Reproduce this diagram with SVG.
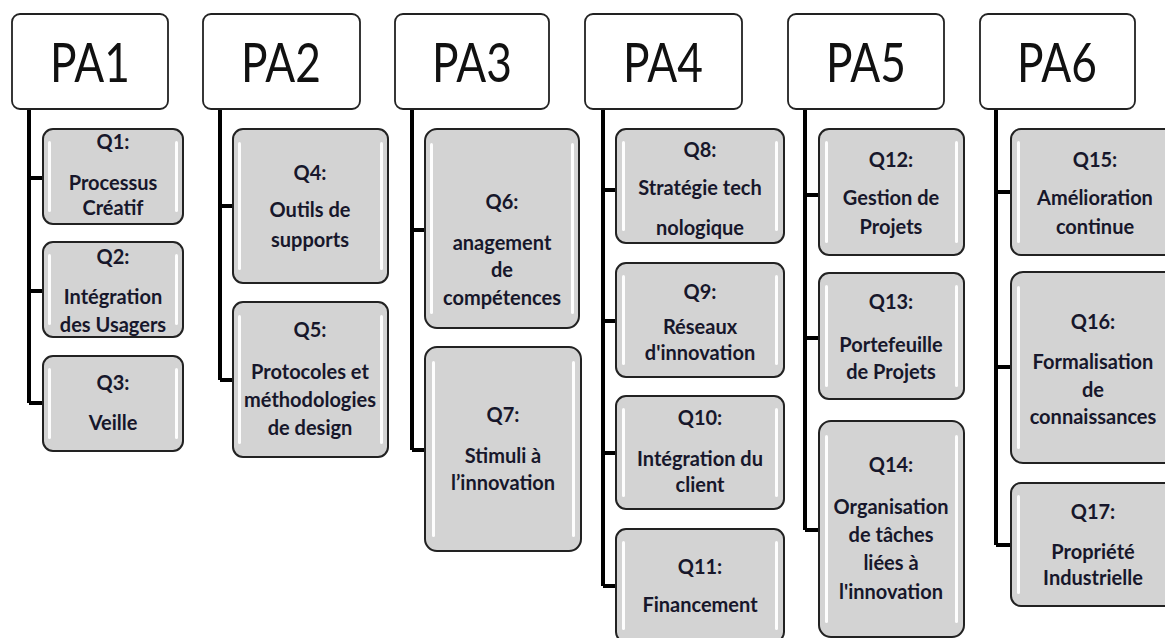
<svg xmlns="http://www.w3.org/2000/svg" width="1165" height="638" viewBox="0 0 1165 638">
<defs>
<style>
.hd{fill:#fff;stroke:#222;stroke-width:1.8}
.ht{font-family:Lato,"Liberation Sans",sans-serif;font-size:54px;fill:#111;text-anchor:middle}
.qb{fill:#d3d3d3;stroke:#222;stroke-width:2}
.hl{fill:#fff;opacity:.95}
.qt{font-family:Lato,"Liberation Sans",sans-serif;font-weight:bold;font-size:20px;fill:#17172b;text-anchor:middle}
.cn{fill:none;stroke:#000;stroke-width:4}
</style>
</defs>
<rect width="1165" height="638" fill="#fff"/>
<g id="connectors">
<path class="cn" d="M29,109V403M29,178H43M29,291H43M29,403H43"/>
<path class="cn" d="M220,109V380M220,206H233M220,380H233"/>
<path class="cn" d="M412,109V450M412,230H425M412,450H425"/>
<path class="cn" d="M603,109V586M603,190H616M603,321H616M603,453H616M603,586H616"/>
<path class="cn" d="M805,109V530M805,195H819M805,338H819M805,530H819"/>
<path class="cn" d="M996,109V545M996,192H1011M996,367H1011M996,545H1011"/>
</g>
<g id="PA1"><rect class="hd" x="12" y="14" width="156" height="95" rx="8"/><text class="ht" x="90" y="82" textLength="80" lengthAdjust="spacingAndGlyphs">PA1</text></g>
<g id="PA2"><rect class="hd" x="203" y="14" width="157" height="95" rx="8"/><text class="ht" x="281" y="82" textLength="80" lengthAdjust="spacingAndGlyphs">PA2</text></g>
<g id="PA3"><rect class="hd" x="395" y="14" width="154" height="95" rx="8"/><text class="ht" x="472" y="82" textLength="80" lengthAdjust="spacingAndGlyphs">PA3</text></g>
<g id="PA4"><rect class="hd" x="585" y="14" width="157" height="95" rx="8"/><text class="ht" x="663" y="82" textLength="80" lengthAdjust="spacingAndGlyphs">PA4</text></g>
<g id="PA5"><rect class="hd" x="788" y="14" width="156" height="95" rx="8"/><text class="ht" x="866" y="82" textLength="80" lengthAdjust="spacingAndGlyphs">PA5</text></g>
<g id="PA6"><rect class="hd" x="980" y="14" width="155" height="95" rx="8"/><text class="ht" x="1057" y="82" textLength="80" lengthAdjust="spacingAndGlyphs">PA6</text></g>

<g id="Q1"><rect class="qb" x="43" y="129" width="140" height="95" rx="10"/><rect class="hl" x="48" y="141" width="3" height="71" rx="1.5"/><rect class="hl" x="175" y="141" width="3" height="71" rx="1.5"/>
<text class="qt" x="113"><tspan x="113" y="149">Q1:</tspan><tspan x="113" y="190">Processus</tspan><tspan x="113" y="215">Créatif</tspan></text></g>
<g id="Q2"><rect class="qb" x="43" y="242" width="140" height="95" rx="10"/><rect class="hl" x="48" y="254" width="3" height="71" rx="1.5"/><rect class="hl" x="175" y="254" width="3" height="71" rx="1.5"/>
<text class="qt"><tspan x="113" y="264">Q2:</tspan><tspan x="113" y="304">Intégration</tspan><tspan x="113" y="332">des Usagers</tspan></text></g>
<g id="Q3"><rect class="qb" x="43" y="356" width="140" height="95" rx="10"/><rect class="hl" x="48" y="368" width="3" height="71" rx="1.5"/><rect class="hl" x="175" y="368" width="3" height="71" rx="1.5"/>
<text class="qt"><tspan x="113" y="390">Q3:</tspan><tspan x="113" y="430">Veille</tspan></text></g>

<g id="Q4"><rect class="qb" x="233" y="129" width="155" height="154" rx="10"/><rect class="hl" x="238" y="142" width="3" height="128" rx="1.5"/><rect class="hl" x="380" y="142" width="3" height="128" rx="1.5"/>
<text class="qt"><tspan x="310" y="180">Q4:</tspan><tspan x="310" y="217">Outils de</tspan><tspan x="310" y="247">supports</tspan></text></g>
<g id="Q5"><rect class="qb" x="233" y="302" width="155" height="155" rx="10"/><rect class="hl" x="238" y="315" width="3" height="129" rx="1.5"/><rect class="hl" x="380" y="315" width="3" height="129" rx="1.5"/>
<text class="qt"><tspan x="310" y="337">Q5:</tspan><tspan x="310" y="379">Protocoles et</tspan><tspan x="310" y="407">méthodologies</tspan><tspan x="310" y="435">de design</tspan></text></g>

<g id="Q6"><rect class="qb" x="425" y="129" width="154" height="199" rx="12"/><rect class="hl" x="430" y="143" width="3" height="171" rx="1.5"/><rect class="hl" x="571" y="143" width="3" height="171" rx="1.5"/>
<text class="qt"><tspan x="502" y="209">Q6:</tspan><tspan x="502" y="250">anagement</tspan><tspan x="502" y="277">de</tspan><tspan x="502" y="305">compétences</tspan></text></g>
<g id="Q7"><rect class="qb" x="425" y="347" width="156" height="204" rx="12"/><rect class="hl" x="432" y="361" width="3" height="176" rx="1.5"/><rect class="hl" x="572" y="361" width="3" height="176" rx="1.5"/>
<text class="qt"><tspan x="503" y="422">Q7:</tspan><tspan x="503" y="463">Stimuli à</tspan><tspan x="503" y="490">l’innovation</tspan></text></g>

<g id="Q8"><rect class="qb" x="616" y="129" width="168" height="114" rx="10"/><rect class="hl" x="622" y="141" width="3" height="90" rx="1.5"/><rect class="hl" x="775" y="141" width="3" height="90" rx="1.5"/>
<text class="qt"><tspan x="700" y="157">Q8:</tspan><tspan x="700" y="195">Stratégie tech</tspan><tspan x="700" y="235">nologique</tspan></text></g>
<g id="Q9"><rect class="qb" x="616" y="263" width="168" height="114" rx="10"/><rect class="hl" x="622" y="275" width="3" height="90" rx="1.5"/><rect class="hl" x="775" y="275" width="3" height="90" rx="1.5"/>
<text class="qt"><tspan x="700" y="299">Q9:</tspan><tspan x="700" y="334">Réseaux</tspan><tspan x="700" y="360">d'innovation</tspan></text></g>
<g id="Q10"><rect class="qb" x="616" y="396" width="168" height="113" rx="10"/><rect class="hl" x="622" y="408" width="3" height="89" rx="1.5"/><rect class="hl" x="775" y="408" width="3" height="89" rx="1.5"/>
<text class="qt"><tspan x="700" y="425">Q10:</tspan><tspan x="700" y="466">Intégration du</tspan><tspan x="700" y="492">client</tspan></text></g>
<g id="Q11"><rect class="qb" x="616" y="529" width="168" height="113" rx="10"/><rect class="hl" x="622" y="541" width="3" height="89" rx="1.5"/><rect class="hl" x="775" y="541" width="3" height="89" rx="1.5"/>
<text class="qt"><tspan x="700" y="574">Q11:</tspan><tspan x="700" y="612">Financement</tspan></text></g>

<g id="Q12"><rect class="qb" x="819" y="129" width="145" height="126" rx="10"/><rect class="hl" x="825" y="141" width="3" height="102" rx="1.5"/><rect class="hl" x="955" y="141" width="3" height="102" rx="1.5"/>
<text class="qt"><tspan x="891" y="167">Q12:</tspan><tspan x="891" y="205">Gestion de</tspan><tspan x="891" y="234">Projets</tspan></text></g>
<g id="Q13"><rect class="qb" x="819" y="273" width="145" height="126" rx="10"/><rect class="hl" x="825" y="285" width="3" height="102" rx="1.5"/><rect class="hl" x="955" y="285" width="3" height="102" rx="1.5"/>
<text class="qt"><tspan x="891" y="309">Q13:</tspan><tspan x="891" y="352">Portefeuille</tspan><tspan x="891" y="379">de Projets</tspan></text></g>
<g id="Q14"><rect class="qb" x="819" y="421" width="145" height="216" rx="12"/><rect class="hl" x="825" y="435" width="3" height="188" rx="1.5"/><rect class="hl" x="955" y="435" width="3" height="188" rx="1.5"/>
<text class="qt"><tspan x="891" y="472">Q14:</tspan><tspan x="891" y="514">Organisation</tspan><tspan x="891" y="542">de tâches</tspan><tspan x="891" y="570">liées à</tspan><tspan x="891" y="599">l'innovation</tspan></text></g>

<g id="Q15"><rect class="qb" x="1011" y="129" width="168" height="126" rx="10"/><rect class="hl" x="1017" y="141" width="3" height="102" rx="1.5"/><rect class="hl" x="1170" y="141" width="3" height="102" rx="1.5"/>
<text class="qt"><tspan x="1095" y="167">Q15:</tspan><tspan x="1095" y="205">Amélioration</tspan><tspan x="1095" y="234">continue</tspan></text></g>
<g id="Q16"><rect class="qb" x="1011" y="272" width="168" height="191" rx="12"/><rect class="hl" x="1017" y="286" width="3" height="163" rx="1.5"/><rect class="hl" x="1170" y="286" width="3" height="163" rx="1.5"/>
<text class="qt"><tspan x="1093" y="329">Q16:</tspan><tspan x="1093" y="369">Formalisation</tspan><tspan x="1093" y="397">de</tspan><tspan x="1093" y="424">connaissances</tspan></text></g>
<g id="Q17"><rect class="qb" x="1011" y="483" width="168" height="123" rx="10"/><rect class="hl" x="1017" y="495" width="3" height="99" rx="1.5"/><rect class="hl" x="1170" y="495" width="3" height="99" rx="1.5"/>
<text class="qt"><tspan x="1093" y="519">Q17:</tspan><tspan x="1093" y="559">Propriété</tspan><tspan x="1093" y="585">Industrielle</tspan></text></g>
</svg>
